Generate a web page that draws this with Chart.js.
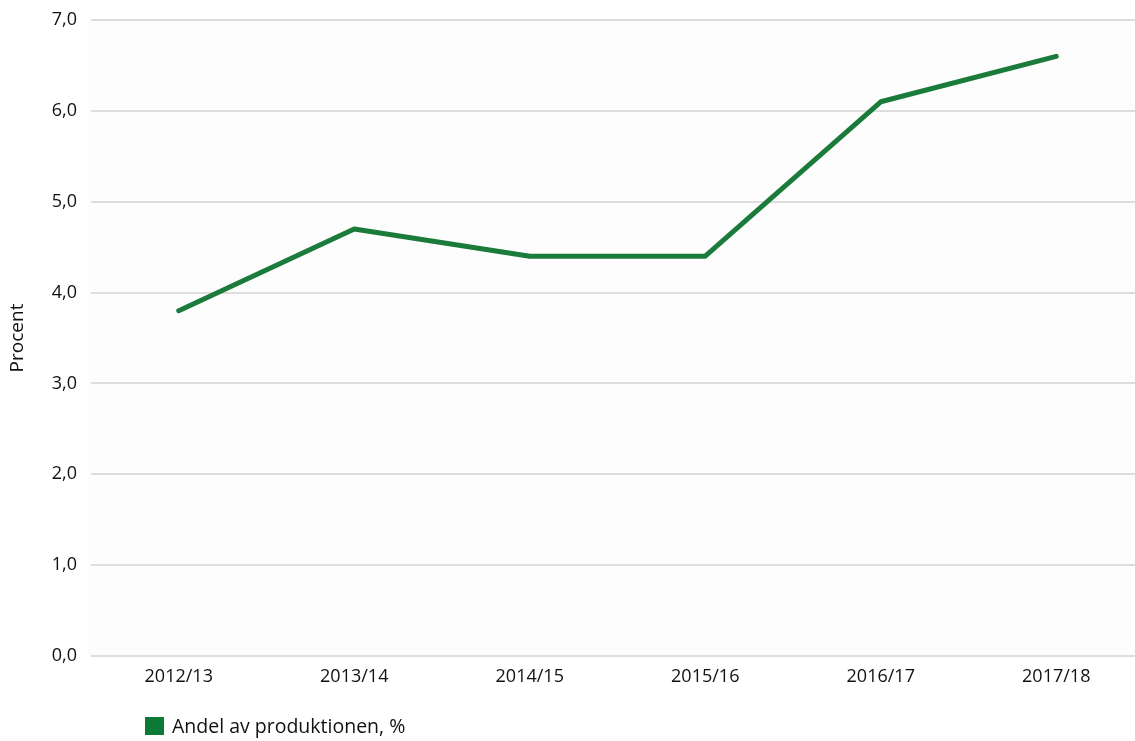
<!DOCTYPE html>
<html>
<head>
<meta charset="utf-8">
<script src="https://cdn.jsdelivr.net/npm/chart.js@4/dist/chart.umd.min.js"></script>
<style>
  html, body { margin: 0; padding: 0; background: #fff; overflow: hidden; }
  #wrap { position: relative; width: 1144px; height: 741px; }
  #legenda { position: absolute; left: 145px; top: 712px; font-family: "Open Sans", sans-serif; font-size: 19.5px; color: #111; display: flex; align-items: center; }
  #legenda span.cor { display: inline-block; width: 19px; height: 18px; background: #0b7a36; margin-right: 8px; }
</style>
</head>
<body>
<div id="wrap">
  <canvas id="graficoLinha" width="1144" height="741"></canvas>
  <div id="legenda"><span class="cor"></span><span id="legendaTexto"></span></div>
</div>
<script>
const anos = ["2012/13", "2013/14", "2014/15", "2015/16", "2016/17", "2017/18"];
const andel = [3.8, 4.7, 4.4, 4.4, 6.1, 6.6];
const nomeSerie = "Andel av produktionen, %";
const tituloY = "Procent";

document.getElementById("legendaTexto").innerText = nomeSerie;

const fonte = "'Open Sans', sans-serif";

// fundo quase branco da area do grafico
const fundoArea = {
  id: "fundoArea",
  beforeDraw(chart) {
    const { ctx, chartArea } = chart;
    ctx.save();
    ctx.fillStyle = "#fdfdfd";
    ctx.fillRect(chartArea.left - 3, chartArea.top, chartArea.right - chartArea.left + 3, chartArea.bottom - chartArea.top);
    ctx.restore();
  }
};

const ctx = document.getElementById("graficoLinha").getContext("2d");

const grafico = new Chart(ctx, {
  type: "line",
  data: {
    labels: anos,
    datasets: [{
      label: nomeSerie,
      data: andel,
      borderColor: "#1b7b3a",
      borderWidth: 5,
      borderCapStyle: "round",
      borderJoinStyle: "round",
      pointRadius: 0,
      tension: 0,
      fill: false
    }]
  },
  options: {
    responsive: false,
    animation: false,
    layout: { padding: { top: 20, bottom: 0, left: 0, right: 0 } },
    scales: {
      x: {
        offset: true,
        grid: { display: false, drawTicks: false },
        border: { display: false },
        ticks: {
          padding: 10,
          color: "#111",
          font: { family: fonte, size: 18 }
        },
        afterFit(scale) { scale.height = 85; }
      },
      y: {
        min: 0,
        max: 7,
        grid: { color: "#dddddd", lineWidth: 2, drawTicks: false },
        border: { display: false },
        ticks: {
          stepSize: 1,
          padding: 14,
          color: "#111",
          font: { family: fonte, size: 18 },
          callback: (v) => v.toFixed(1).replace(".", ",")
        },
        title: {
          display: true,
          text: tituloY,
          color: "#111",
          font: { family: fonte, size: 19 },
          padding: { top: 6, bottom: 0 }
        },
        afterFit(scale) { scale.width = 91; scale.paddingTop = 0; }
      }
    },
    plugins: {
      legend: { display: false },
      tooltip: { enabled: false }
    }
  },
  plugins: [fundoArea]
});
</script>
</body>
</html>
